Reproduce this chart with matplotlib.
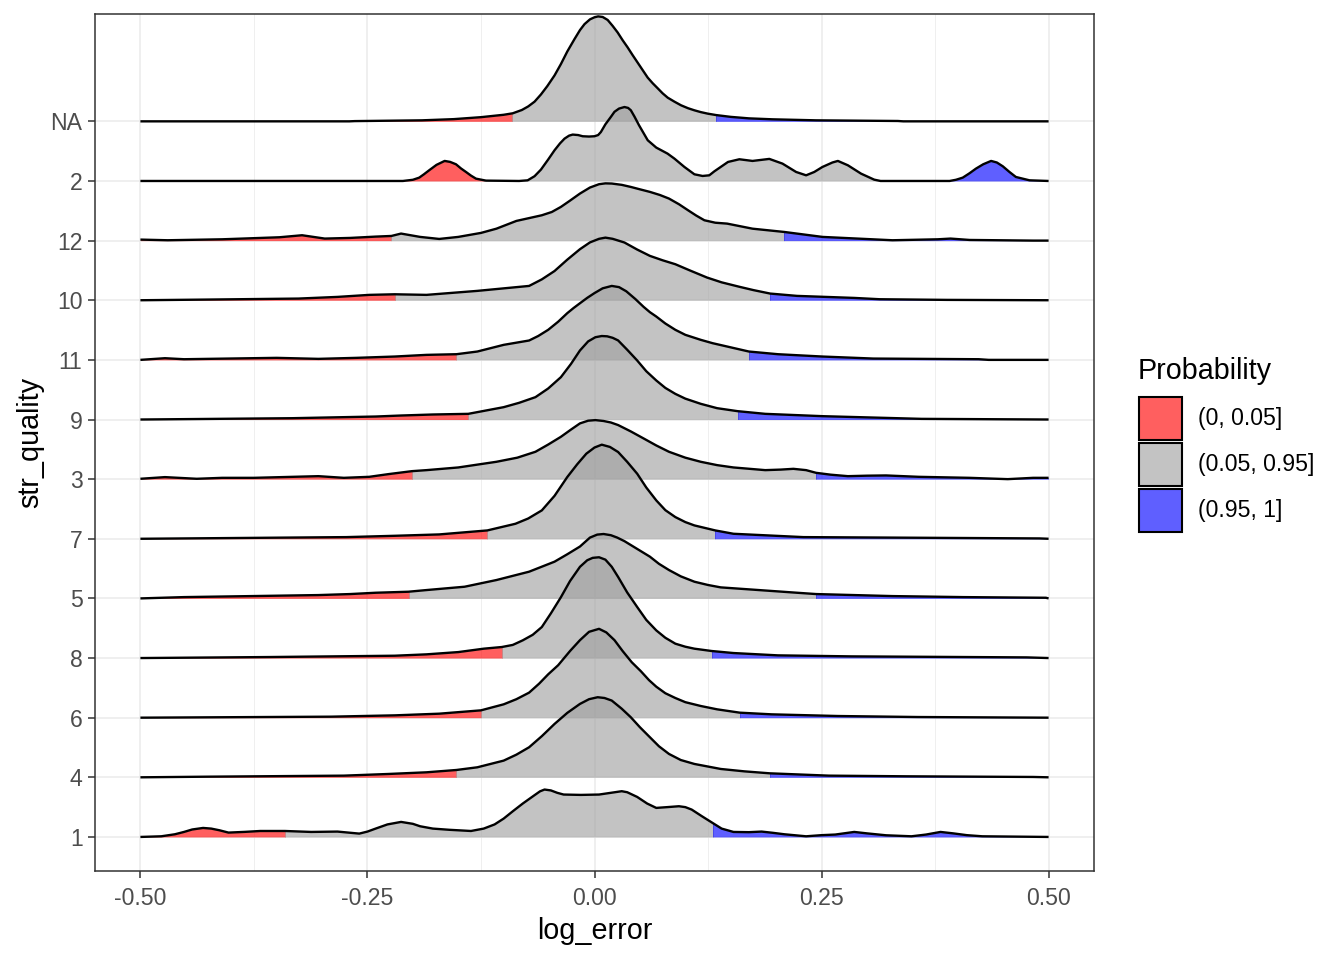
import numpy as np
import matplotlib.pyplot as plt
from matplotlib.patches import Rectangle
from matplotlib.colors import to_rgba

plt.rcParams['font.family'] = ['Liberation Sans', 'DejaVu Sans']

# ridge levels, bottom to top
levels = ["1", "4", "6", "8", "5", "7", "3", "9", "11", "10", "12", "2", "NA"]

# density outlines (height in units of row spacing)
x_1 = [-0.5, -0.477, -0.462, -0.452, -0.443, -0.431, -0.422, -0.413, -0.403, -0.385, -0.368,
       -0.341, -0.312, -0.283, -0.259, -0.250, -0.241, -0.228, -0.213, -0.200, -0.192, -0.178,
       -0.160, -0.136, -0.122, -0.110, -0.100, -0.090, -0.079, -0.067, -0.060, -0.055, -0.048,
       -0.041, -0.034, -0.015, 0.005, 0.018, 0.030, 0.036, 0.047, 0.058, 0.068, 0.080, 0.093,
       0.100, 0.107, 0.118, 0.130, 0.140, 0.153, 0.170, 0.184, 0.196, 0.209, 0.233, 0.250,
       0.265, 0.286, 0.300, 0.321, 0.349, 0.365, 0.381, 0.395, 0.410, 0.427, 0.5]
h_1 = [0, 0.011, 0.045, 0.084, 0.125, 0.151, 0.14, 0.112, 0.073, 0.085, 0.10,
       0.10, 0.084, 0.09, 0.056, 0.09, 0.14, 0.21, 0.252, 0.22, 0.179, 0.14,
       0.12, 0.10, 0.14, 0.21, 0.308, 0.43, 0.56, 0.69, 0.765, 0.795, 0.78,
       0.74, 0.711, 0.705, 0.711, 0.74, 0.767, 0.75, 0.671, 0.56, 0.487, 0.50, 0.515,
       0.50, 0.459, 0.35, 0.235, 0.14, 0.084, 0.08, 0.09, 0.07, 0.045, 0.011, 0.03,
       0.04, 0.084, 0.06, 0.028, 0.011, 0.04, 0.084, 0.06, 0.03, 0.011, 0]

x_4 = [-0.5, -0.424, -0.276, -0.227, -0.185, -0.152, -0.129, -0.10, -0.086, -0.072, -0.058,
       -0.044, -0.030, -0.016, -0.006, 0.0035, 0.011, 0.019, 0.030, 0.040, 0.050, 0.061,
       0.071, 0.082, 0.095, 0.110, 0.139, 0.165, 0.193, 0.258, 0.343, 0.483, 0.5]
h_4 = [0, 0.011, 0.028, 0.056, 0.084, 0.123, 0.168, 0.28, 0.38, 0.504, 0.69,
       0.895, 1.08, 1.231, 1.31, 1.343, 1.33, 1.287, 1.15, 1.007, 0.84, 0.672,
       0.52, 0.392, 0.29, 0.224, 0.14, 0.10, 0.067, 0.028, 0.017, 0.006, 0]

x_6 = [-0.5, -0.29, -0.22, -0.171, -0.125, -0.10, -0.086, -0.072, -0.061, -0.051, -0.040,
       -0.027, -0.016, -0.006, 0.005, 0.013, 0.022, 0.031, 0.041, 0.051, 0.060, 0.068,
       0.078, 0.089, 0.100, 0.117, 0.135, 0.16, 0.195, 0.268, 0.356, 0.5]
h_6 = [0, 0.017, 0.039, 0.067, 0.123, 0.224, 0.31, 0.42, 0.57, 0.727, 0.88,
       1.117, 1.30, 1.44, 1.49, 1.43, 1.30, 1.117, 0.93, 0.78, 0.63, 0.52,
       0.41, 0.33, 0.26, 0.196, 0.14, 0.084, 0.056, 0.028, 0.011, 0]

x_8 = [-0.5, -0.357, -0.22, -0.185, -0.150, -0.122, -0.102, -0.090, -0.079, -0.068, -0.058,
       -0.048, -0.037, -0.027, -0.016, -0.008, -0.002, 0.005, 0.012, 0.019, 0.026, 0.036,
       0.047, 0.057, 0.068, 0.078, 0.089, 0.100, 0.110, 0.129, 0.153, 0.202, 0.283, 0.476, 0.5]
h_8 = [0, 0.017, 0.039, 0.062, 0.10, 0.157, 0.185, 0.22, 0.297, 0.39, 0.52,
       0.75, 1.02, 1.29, 1.53, 1.64, 1.68, 1.69, 1.65, 1.53, 1.36, 1.10,
       0.856, 0.64, 0.464, 0.34, 0.241, 0.19, 0.157, 0.118, 0.084, 0.045, 0.028, 0.011, 0]

x_5 = [-0.5, -0.452, -0.304, -0.269, -0.241, -0.205, -0.185, -0.143, -0.108, -0.072, -0.044,
       -0.030, -0.016, -0.005, 0.003, 0.010, 0.018, 0.025, 0.033, 0.047, 0.061, 0.071, 0.082,
       0.095, 0.110, 0.125, 0.139, 0.181, 0.223, 0.244, 0.328, 0.406, 0.497, 0.5]
h_5 = [0, 0.022, 0.056, 0.073, 0.095, 0.112, 0.14, 0.196, 0.308, 0.448, 0.616,
       0.74, 0.87, 1.02, 1.07, 1.08, 1.06, 1.02, 0.96, 0.83, 0.70, 0.58, 0.476,
       0.37, 0.28, 0.225, 0.185, 0.14, 0.095, 0.073, 0.039, 0.022, 0.011, 0]

x_7 = [-0.5, -0.273, -0.22, -0.171, -0.118, -0.087, -0.073, -0.058, -0.044, -0.030, -0.019,
       -0.009, 0.0, 0.008, 0.017, 0.026, 0.036, 0.047, 0.057, 0.068, 0.078, 0.089, 0.100,
       0.110, 0.133, 0.153, 0.230, 0.490, 0.5]
h_7 = [0, 0.028, 0.05, 0.073, 0.14, 0.252, 0.34, 0.476, 0.72, 1.035, 1.25,
       1.427, 1.53, 1.578, 1.54, 1.455, 1.29, 1.091, 0.86, 0.644, 0.48, 0.364, 0.28,
       0.224, 0.14, 0.084, 0.028, 0.006, 0]

x_3 = [-0.5, -0.473, -0.438, -0.41, -0.375, -0.304, -0.276, -0.248, -0.227, -0.201, -0.185,
       -0.15, -0.108, -0.085, -0.065, -0.051, -0.037, -0.026, -0.016, -0.007, 0.001, 0.010,
       0.018, 0.026, 0.040, 0.054, 0.068, 0.082, 0.100, 0.117, 0.135, 0.153, 0.188, 0.205,
       0.219, 0.233, 0.244, 0.260, 0.279, 0.300, 0.321, 0.357, 0.413, 0.455, 0.483, 0.5]
h_3 = [0.006, 0.034, 0.006, 0.022, 0.022, 0.05, 0.022, 0.039, 0.084, 0.134, 0.151,
       0.196, 0.291, 0.36, 0.459, 0.58, 0.71, 0.83, 0.935, 0.98, 0.99, 0.975,
       0.95, 0.907, 0.80, 0.683, 0.565, 0.459, 0.36, 0.291, 0.235, 0.196, 0.151, 0.16,
       0.173, 0.151, 0.106, 0.075, 0.05, 0.058, 0.062, 0.039, 0.022, 0.0, 0.022, 0.022]

x_9 = [-0.5, -0.333, -0.241, -0.213, -0.178, -0.139, -0.10, -0.083, -0.065, -0.051, -0.037,
       -0.026, -0.016, -0.007, 0.001, 0.008, 0.014, 0.020, 0.026, 0.036, 0.047, 0.057, 0.068,
       0.078, 0.089, 0.100, 0.117, 0.135, 0.1575, 0.188, 0.251, 0.360, 0.5]
h_9 = [0, 0.022, 0.05, 0.067, 0.084, 0.095, 0.207, 0.28, 0.375, 0.52, 0.71,
       0.93, 1.158, 1.31, 1.38, 1.40, 1.395, 1.37, 1.326, 1.17, 0.99, 0.81, 0.655,
       0.53, 0.43, 0.35, 0.263, 0.19, 0.14, 0.095, 0.056, 0.011, 0]

x_11 = [-0.5, -0.473, -0.452, -0.35, -0.304, -0.262, -0.220, -0.185, -0.152, -0.129, -0.10,
        -0.072, -0.062, -0.051, -0.040, -0.030, -0.023, -0.016, -0.008, 0.0, 0.009, 0.019,
        0.027, 0.035, 0.045, 0.054, 0.061, 0.068, 0.078, 0.089, 0.100, 0.117, 0.130, 0.146,
        0.170, 0.202, 0.251, 0.307, 0.423, 0.434, 0.5]
h_11 = [0, 0.028, 0.011, 0.034, 0.017, 0.034, 0.056, 0.084, 0.095, 0.14, 0.252,
        0.325, 0.40, 0.504, 0.64, 0.783, 0.87, 0.95, 1.04, 1.12, 1.20, 1.24,
        1.22, 1.15, 1.02, 0.89, 0.80, 0.727, 0.61, 0.504, 0.42, 0.336, 0.28, 0.224,
        0.14, 0.095, 0.056, 0.022, 0.011, 0, 0]

x_10 = [-0.5, -0.428, -0.326, -0.283, -0.248, -0.220, -0.185, -0.129, -0.072, -0.058, -0.044,
        -0.030, -0.016, -0.005, 0.005, 0.012, 0.020, 0.033, 0.047, 0.061, 0.075, 0.089, 0.105,
        0.124, 0.140, 0.160, 0.175, 0.1934, 0.223, 0.286, 0.314, 0.388, 0.5]
h_10 = [0, 0.011, 0.028, 0.056, 0.09, 0.10, 0.09, 0.157, 0.24, 0.35, 0.49,
        0.68, 0.856, 0.97, 1.03, 1.05, 1.03, 0.968, 0.85, 0.744, 0.67, 0.604, 0.50,
        0.38, 0.30, 0.224, 0.17, 0.112, 0.073, 0.039, 0.017, 0.006, 0]

x_12 = [-0.5, -0.47, -0.41, -0.347, -0.322, -0.297, -0.269, -0.241, -0.2236, -0.213, -0.192,
        -0.171, -0.150, -0.125, -0.108, -0.086, -0.058, -0.047, -0.037, -0.027, -0.016, -0.005,
        0.005, 0.012, 0.019, 0.030, 0.040, 0.050, 0.061, 0.072, 0.082, 0.093, 0.103, 0.112,
        0.121, 0.133, 0.146, 0.174, 0.209, 0.251, 0.328, 0.378, 0.392, 0.413, 0.483, 0.5]
h_12 = [0.017, 0.006, 0.022, 0.056, 0.09, 0.034, 0.045, 0.067, 0.078, 0.118, 0.062,
        0.028, 0.062, 0.129, 0.2, 0.33, 0.425, 0.48, 0.565, 0.67, 0.789, 0.89,
        0.946, 0.96, 0.957, 0.935, 0.90, 0.86, 0.817, 0.765, 0.705, 0.61, 0.509, 0.42,
        0.341, 0.30, 0.285, 0.2, 0.145, 0.062, 0.006, 0.022, 0.034, 0.011, 0, 0]

x_2 = [-0.5, -0.211, -0.200, -0.193, -0.188, -0.182, -0.174, -0.165, -0.159, -0.1525, -0.147,
       -0.1415, -0.136, -0.1305, -0.1195, -0.083, -0.0736, -0.066, -0.059, -0.051, -0.044,
       -0.038, -0.033, -0.028, -0.024, -0.018, -0.013, -0.006, 0.0, 0.004, 0.007, 0.012,
       0.018, 0.022, 0.027, 0.033, 0.037, 0.040, 0.044, 0.049, 0.0586, 0.068, 0.0804, 0.088,
       0.099, 0.110, 0.119, 0.1264, 0.132, 0.147, 0.1595, 0.174, 0.1925, 0.207, 0.222, 0.233,
       0.242, 0.251, 0.262, 0.268, 0.279, 0.2935, 0.308, 0.315, 0.391, 0.398, 0.4055, 0.413,
       0.420, 0.428, 0.4367, 0.443, 0.4496, 0.457, 0.464, 0.479, 0.5]
h_2 = [0, 0, 0.02, 0.056, 0.11, 0.18, 0.27, 0.336, 0.32, 0.28, 0.21,
       0.151, 0.09, 0.039, 0.006, 0, 0.011, 0.08, 0.19, 0.36, 0.515,
       0.63, 0.71, 0.76, 0.778, 0.77, 0.75, 0.745, 0.75, 0.77, 0.82, 0.95,
       1.074, 1.16, 1.214, 1.24, 1.225, 1.186, 1.08, 0.935, 0.683, 0.56, 0.459, 0.375,
       0.235, 0.112, 0.084, 0.095, 0.162, 0.319, 0.364, 0.336, 0.37, 0.291, 0.151, 0.095,
       0.151, 0.235, 0.31, 0.336, 0.263, 0.123, 0.022, 0, 0, 0.02, 0.056, 0.13,
       0.207, 0.28, 0.336, 0.31, 0.246, 0.15, 0.067, 0.011, 0]

x_na = [-0.5, -0.27, -0.264, -0.19, -0.155, -0.125, -0.10, -0.09, -0.08, -0.073, -0.066,
        -0.059, -0.052, -0.044, -0.037, -0.030, -0.022, -0.016, -0.011, -0.005, 0.0, 0.004,
        0.009, 0.0145, 0.020, 0.0255, 0.031, 0.0365, 0.042, 0.0475, 0.053, 0.0586, 0.064,
        0.0696, 0.075, 0.0806, 0.088, 0.0953, 0.103, 0.110, 0.117, 0.1247, 0.134, 0.15, 0.17,
        0.196, 0.244, 0.334, 0.34, 0.5]
h_na = [0, 0, 0.004, 0.017, 0.037, 0.07, 0.11, 0.135, 0.19, 0.25, 0.33,
        0.45, 0.59, 0.77, 0.96, 1.17, 1.38, 1.53, 1.63, 1.71, 1.745, 1.76,
        1.75, 1.70, 1.60, 1.49, 1.36, 1.24, 1.11, 0.985, 0.86, 0.733, 0.64,
        0.554, 0.47, 0.397, 0.33, 0.269, 0.22, 0.185, 0.155, 0.129, 0.105, 0.075, 0.05,
        0.034, 0.017, 0.006, 0, 0]

ridge_x = [x_1, x_4, x_6, x_8, x_5, x_7, x_3, x_9, x_11, x_10, x_12, x_2, x_na]
ridge_h = [h_1, h_4, h_6, h_8, h_5, h_7, h_3, h_9, h_11, h_10, h_12, h_2, h_na]

# 5% and 95% quantile cut points per ridge
q05 = [-0.341, -0.152, -0.125, -0.102, -0.2046, -0.118, -0.201, -0.139, -0.152, -0.220,
       -0.2236, -0.122, -0.091]
q95 = [0.130, 0.1934, 0.16, 0.129, 0.244, 0.133, 0.244, 0.1575, 0.170, 0.1934, 0.209,
       0.36, 0.134]

prob_labels = ["(0, 0.05]", "(0.05, 0.95]", "(0.95, 1]"]
fill_cols = ["#FF0000", "#A0A0A0", "#0000FF"]
ALPHA = 0.627

W, H = 1344, 960
fig = plt.figure(figsize=(W / 100, H / 100), dpi=100)
ax = fig.add_axes([95 / W, 89 / H, 999 / W, 857 / H])

ypos = np.arange(1, len(levels) + 1)

# top ridge first, lower ridges drawn in front
for i in range(len(levels) - 1, -1, -1):
    xs = np.array(ridge_x[i])
    top = ypos[i] + np.array(ridge_h[i])
    z = 3 + (len(levels) - i)
    bands = [(-1.0, q05[i]), (q05[i], q95[i]), (q95[i], 1.0)]
    for (lo, hi), col in zip(bands, fill_cols):
        poly = ax.fill_between(xs, ypos[i], top, color=col, alpha=ALPHA,
                               lw=0, zorder=z)
        clip = Rectangle((lo, ypos[i] - 0.5), hi - lo, 3.0,
                         transform=ax.transData)
        poly.set_clip_path(clip)
    ax.plot(xs, top, color="black", lw=1.7, zorder=z + 0.5,
            solid_joinstyle="round", solid_capstyle="butt")

ax.set_xlim(-0.55, 0.55)
ax.set_ylim(0.429, 14.80)
ax.set_xticks([-0.5, -0.25, 0, 0.25, 0.5])
ax.set_xticklabels(["-0.50", "-0.25", "0.00", "0.25", "0.50"])
ax.set_xticks([-0.375, -0.125, 0.125, 0.375], minor=True)
ax.set_yticks(ypos)
ax.set_yticklabels(levels)

ax.set_axisbelow(True)
ax.grid(which="major", color="#EBEBEB", lw=1.1)
ax.grid(which="minor", axis="x", color="#EBEBEB", lw=0.55)
ax.tick_params(which="major", length=5, width=1.1, color="#333333",
               labelcolor="#4D4D4D", labelsize=16.6, pad=4)
ax.tick_params(axis="x", which="major", pad=6.5)
ax.tick_params(which="minor", length=0)
for s in ax.spines.values():
    s.set_color("#333333")
    s.set_linewidth(1.1)

fig.text(594.5 / W, 1 - 931 / H, "log_error", fontsize=20.7,
         ha="center", va="center")
fig.text(30 / W, 1 - 442.5 / H, "str_quality", fontsize=20.7,
         ha="center", va="center", rotation=90)

# legend
fig.text(1138 / W, 1 - 371 / H, "Probability", fontsize=20.7,
         ha="left", va="center")
key_tops = [397, 443, 489]
for top_px, col, lab in zip(key_tops, fill_cols, prob_labels):
    fig.add_artist(Rectangle((1139 / W, 1 - (top_px + 43) / H), 43 / W, 43 / H,
                             transform=fig.transFigure,
                             facecolor=to_rgba(col, ALPHA),
                             edgecolor="black", lw=1.5))
    fig.text(1198 / W, 1 - (top_px + 21.5) / H, lab, fontsize=16.6,
             ha="left", va="center")

fig.savefig("out.png", dpi=100)
